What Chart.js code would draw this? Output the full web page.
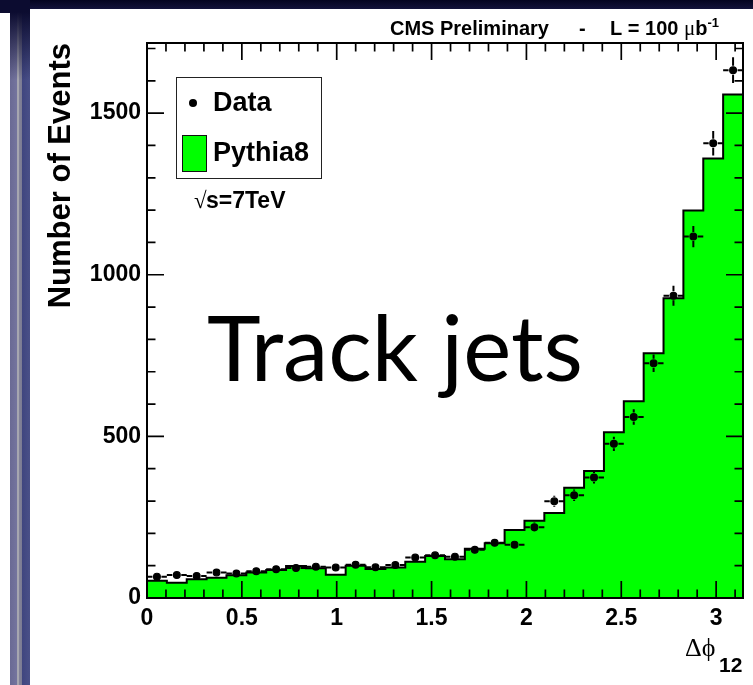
<!DOCTYPE html>
<html>
<head>
<meta charset="utf-8">
<title>Track jets - delta phi</title>
<script src="https://cdn.jsdelivr.net/npm/chart.js@4/dist/chart.umd.min.js"></script>
<style>
  html, body { margin: 0; padding: 0; background: #fff; }
  #wrap { position: relative; width: 753px; height: 685px; overflow: hidden; background: #fff; }
  /* slide frame decoration */
  .slide-top { position: absolute; left: 0; top: 0; width: 753px; height: 9px; background: linear-gradient(#04041f, #13133a); }
  .slide-corner { position: absolute; left: 0; top: 0; width: 30px; height: 13px; background: #0c0c30; }
  .slide-bar { position: absolute; left: 10px; top: 0; width: 20px; height: 685px;
    background: linear-gradient(90deg, #6a6a94 0, #74749e 7px, #a6a6b0 7px, #a6a6b0 9px, #84849a 9px, #7a7a92 12px, #3f457f 12px, #4a5088 20px); }
  .slide-bar-shade { position: absolute; left: 10px; top: 0; width: 20px; height: 80px;
    background: linear-gradient(#0c0c30 0, #0c0c30 12px, rgba(12,12,48,0) 80px); }
  canvas { position: absolute; left: 0; top: 0; }
</style>
</head>
<body>
<div id="wrap">
  <div class="slide-top"></div>
  <div class="slide-corner"></div>
  <div class="slide-bar"></div>
  <div class="slide-bar-shade"></div>
  <canvas id="chart" width="753" height="685"></canvas>
</div>
<script>
// Binning in delta-phi (30 uniform bins from 0 to pi)
const binEdges = [
  0.0000, 0.1047, 0.2094, 0.3142, 0.4189, 0.5236, 0.6283, 0.7330, 0.8378, 0.9425,
  1.0472, 1.1519, 1.2566, 1.3614, 1.4661, 1.5708, 1.6755, 1.7802, 1.8850, 1.9897,
  2.0944, 2.1991, 2.3038, 2.4086, 2.5133, 2.6180, 2.7227, 2.8274, 2.9322, 3.0369,
  3.1416
];

// Pythia8 prediction per bin
const pythia8Counts = [
  53, 47, 58, 63, 70, 79, 87, 99, 92, 72,
  100, 90, 94, 112, 130, 120, 152, 169, 210, 239,
  263, 341, 393, 513, 609, 757, 927, 1199, 1360, 1558
];

// Measured events per bin and their statistical errors
const dataCounts = [
  66, 71, 68, 79, 76, 83, 89, 93, 97, 94,
  103, 95, 102, 125, 132, 128, 149, 171, 165, 219,
  299, 318, 373, 477, 560, 726, 935, 1118, 1407, 1633
];
const dataErrors = [
  8, 8, 8, 9, 9, 9, 9, 10, 10, 10,
  10, 10, 10, 11, 11, 11, 12, 13, 13, 15,
  17, 18, 19, 22, 24, 27, 31, 33, 38, 40
];

// Axis ticks and labels
const xTickValues = [0, 0.5, 1, 1.5, 2, 2.5, 3];
const xTickLabels = ['0', '0.5', '1', '1.5', '2', '2.5', '3'];
const yTickValues = [0, 500, 1000, 1500];
const yTickLabels = ['0', '500', '1000', '1500'];
const xMax = 3.1416;
const yMax = 1717;

const GREEN = '#00ff00';
const SANS = '"Liberation Sans", Arial, Helvetica, sans-serif';
const SERIF = '"Liberation Serif", "DejaVu Serif", serif';

const histPoints = pythia8Counts.map((v, i) => ({ x: binEdges[i], y: v }));
histPoints.push({ x: binEdges[binEdges.length - 1], y: pythia8Counts[pythia8Counts.length - 1] });
const dataPoints = dataCounts.map((v, i) => ({ x: (binEdges[i] + binEdges[i + 1]) / 2, y: v }));

function seg(ctx, x1, y1, x2, y2) { ctx.moveTo(x1, y1); ctx.lineTo(x2, y2); }

// Error bars, frame, inward tick marks, legend and annotation texts
const hepDecor = {
  id: 'hepDecor',
  afterDatasetsDraw(chart) {
    const { ctx, chartArea: a, scales: { x, y } } = chart;
    ctx.save();

    // error bars with a gap around the marker
    const gap = 4.5;
    ctx.strokeStyle = '#000';
    ctx.lineWidth = 2;
    ctx.beginPath();
    dataCounts.forEach((v, i) => {
      const px = x.getPixelForValue((binEdges[i] + binEdges[i + 1]) / 2);
      const py = y.getPixelForValue(v);
      const xl = x.getPixelForValue(binEdges[i]);
      const xr = x.getPixelForValue(binEdges[i + 1]);
      const yt = y.getPixelForValue(v + dataErrors[i]);
      const yb = y.getPixelForValue(v - dataErrors[i]);
      seg(ctx, xl, py, px - gap, py);
      seg(ctx, px + gap, py, xr, py);
      if (py - yt > gap) {
        seg(ctx, px, yt, px, py - gap);
        seg(ctx, px, py + gap, px, yb);
      }
    });
    ctx.stroke();

    // frame
    ctx.lineWidth = 2;
    ctx.strokeRect(a.left, a.top, a.right - a.left, a.bottom - a.top);

    // tick marks pointing into the frame
    ctx.lineWidth = 1.7;
    ctx.beginPath();
    for (let k = 0; k / 10 <= xMax; k++) {
      const len = k % 5 === 0 ? 17 : 8.5;
      const p = x.getPixelForValue(k / 10);
      seg(ctx, p, a.bottom, p, a.bottom - len);
      seg(ctx, p, a.top, p, a.top + len);
    }
    for (let k = 0; k * 100 <= yMax; k++) {
      const len = k % 5 === 0 ? 17 : 8.5;
      const p = y.getPixelForValue(k * 100);
      seg(ctx, a.left, p, a.left + len, p);
      seg(ctx, a.right, p, a.right - len, p);
    }
    ctx.stroke();
    ctx.restore();
  },
  afterDraw(chart) {
    const { ctx } = chart;
    ctx.save();
    ctx.fillStyle = '#000';
    ctx.textBaseline = 'alphabetic';
    ctx.textAlign = 'left';

    // header line
    ctx.font = 'bold 20px ' + SANS;
    ctx.fillText('CMS Preliminary', 390, 35);
    ctx.fillText('-', 579, 35);
    let tx = 610;
    ctx.fillText('L = 100 ', tx, 35);
    tx += ctx.measureText('L = 100 ').width;
    ctx.font = '21px ' + SERIF;
    ctx.fillText('\u03bc', tx, 35);
    tx += ctx.measureText('\u03bc').width;
    ctx.font = 'bold 20px ' + SANS;
    ctx.fillText('b', tx, 35);
    tx += ctx.measureText('b').width;
    ctx.font = 'bold 13px ' + SANS;
    ctx.fillText('-1', tx, 27);

    // legend
    ctx.strokeStyle = '#222';
    ctx.lineWidth = 1;
    ctx.strokeRect(176.5, 77.5, 145, 101);
    ctx.beginPath();
    ctx.arc(193, 103, 4, 0, Math.PI * 2);
    ctx.fill();
    ctx.fillStyle = GREEN;
    ctx.fillRect(182, 135, 25, 37);
    ctx.strokeStyle = '#111';
    ctx.strokeRect(182.5, 135.5, 24, 36);
    ctx.fillStyle = '#000';
    ctx.font = 'bold 27px ' + SANS;
    ctx.textBaseline = 'middle';
    ctx.fillText(chart.data.datasets[1].label, 213, 104);
    ctx.fillText(chart.data.datasets[0].label, 213, 154);

    // centre-of-mass energy
    ctx.font = '23px ' + SERIF;
    ctx.fillText('\u221a', 194, 202);
    ctx.font = 'bold 23px ' + SANS;
    ctx.fillText('s=7TeV', 206, 202);

    // x axis title
    ctx.textBaseline = 'alphabetic';
    ctx.font = '26px ' + SERIF;
    ctx.fillText('\u0394\u03d5', 685, 656);
    ctx.font = 'bold 21px ' + SANS;
    ctx.fillText('12', 719, 672);

    // overlay label
    ctx.font = '91px Lato, "Open Sans", sans-serif';
    ctx.fillText('Track jets', 207, 381);
    ctx.restore();
  }
};

new Chart(document.getElementById('chart'), {
  type: 'line',
  data: {
    datasets: [
      {
        label: 'Pythia8',
        data: histPoints,
        stepped: true,
        fill: 'origin',
        backgroundColor: GREEN,
        borderColor: '#000',
        borderWidth: 2,
        pointRadius: 0,
        order: 2
      },
      {
        label: 'Data',
        type: 'scatter',
        data: dataPoints,
        pointRadius: 3.4,
        pointBorderWidth: 1.2,
        backgroundColor: '#000',
        borderColor: '#000',
        order: 1
      }
    ]
  },
  options: {
    responsive: false,
    animation: false,
    devicePixelRatio: 1,
    layout: { padding: { left: 0, top: 43, right: 10, bottom: 0 } },
    plugins: { legend: { display: false }, tooltip: { enabled: false } },
    scales: {
      x: {
        type: 'linear',
        min: 0,
        max: xMax,
        afterBuildTicks: s => { s.ticks = xTickValues.map(v => ({ value: v })); },
        afterFit: s => { s.height = 87; },
        grid: { display: false, drawTicks: false, tickLength: 0 },
        border: { display: false },
        ticks: {
          autoSkip: false,
          maxRotation: 0,
          padding: 7,
          color: '#000',
          font: { family: SANS, weight: 'bold', size: 23 },
          callback: (v, i) => xTickLabels[i]
        }
      },
      y: {
        type: 'linear',
        min: 0,
        max: yMax,
        afterBuildTicks: s => { s.ticks = yTickValues.map(v => ({ value: v })); },
        afterFit: s => { s.width = 147; },
        grid: { display: false, drawTicks: false, tickLength: 0 },
        border: { display: false },
        ticks: {
          autoSkip: false,
          padding: 6,
          color: '#000',
          font: { family: SANS, weight: 'bold', size: 23 },
          callback: (v, i) => yTickLabels[i]
        },
        title: {
          display: true,
          text: 'Number of Events',
          align: 'end',
          color: '#000',
          font: { family: SANS, weight: 'bold', size: 31 },
          padding: { top: 43, bottom: 0 }
        }
      }
    }
  },
  plugins: [hepDecor]
});
</script>
</body>
</html>
